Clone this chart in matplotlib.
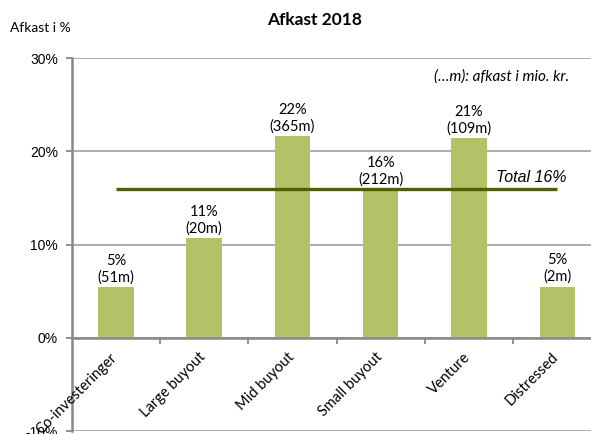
import matplotlib.pyplot as plt

categories = ["Co-investeringer", "Large buyout", "Mid buyout", "Small buyout", "Venture", "Distressed"]
returns_pct = [5.4, 10.7, 21.6, 15.9, 21.4, 5.5]
pct_labels = ["5%", "11%", "22%", "16%", "21%", "5%"]
mio_labels = ["(51m)", "(20m)", "(365m)", "(212m)", "(109m)", "(2m)"]
total_pct = 16.0
yticks = [-10, 0, 10, 20, 30]

bar_color = "#B3C266"
line_color = "#4E6100"
grid_color = "#A6A6A6"
axis_color = "#888888"

fig = plt.figure(figsize=(5.91, 4.34), dpi=100)
ax = fig.add_axes([0.1213, 0.0069, 0.8965, 0.859])

x = list(range(len(categories)))
ax.bar(x, returns_pct, width=0.4, color=bar_color, zorder=3)
ax.plot([x[0], x[-1]], [total_pct, total_pct], color=line_color, linewidth=2.4, zorder=5,
        solid_capstyle='butt')

for i, v in enumerate(returns_pct):
    ax.annotate(pct_labels[i] + "\n" + mio_labels[i], (i, v), xytext=(0, 2),
                textcoords='offset points', ha='center', va='bottom',
                fontsize=10.5, family='Lato', linespacing=1.2, zorder=4)

ax.set_xlim(-0.5, 5.5)
ax.set_ylim(-10, 30)
ax.set_yticks(yticks)
ax.set_yticklabels([f"{t}%" for t in yticks], fontsize=10, family='Liberation Sans')
ax.yaxis.grid(True, color=grid_color, linewidth=1.3, zorder=0)

ax.spines['top'].set_visible(False)
ax.spines['right'].set_visible(False)
ax.spines['left'].set_color(axis_color)
ax.spines['left'].set_linewidth(1.8)
ax.spines['bottom'].set_position(('data', 0))
ax.spines['bottom'].set_color(axis_color)
ax.spines['bottom'].set_linewidth(1.8)
ax.spines['bottom'].set_zorder(4)

ax.set_xticks([0.5, 1.5, 2.5, 3.5, 4.5, 5.5])
ax.set_xticklabels([])
ax.tick_params(axis='x', direction='out', length=4, width=1.3, color=axis_color)
ax.tick_params(axis='y', direction='out', length=4, width=1.3, color=axis_color, pad=6)

for i, name in enumerate(categories):
    ax.annotate(name, (i, 0), xytext=(3, -9), textcoords='offset points',
                rotation=45, ha='right', va='top', fontsize=10.5, family='Lato')

ax.text(4.7, total_pct + 0.4, "Total 16%", fontsize=11.5, style='italic',
        family='Liberation Sans', ha='center', va='bottom', zorder=6)

fig.text(0.533, 0.955, "Afkast 2018", fontsize=12.5, fontweight='bold', family='Lato',
         ha='center', va='center')
fig.text(0.017, 0.935, "Afkast i %", fontsize=10, family='Lato', ha='left', va='center')
fig.text(0.963, 0.823, "(…m): afkast i mio. kr.", fontsize=11, style='italic', family='Lato',
         ha='right', va='center')

plt.savefig("out.png", dpi=100)
plt.close(fig)
